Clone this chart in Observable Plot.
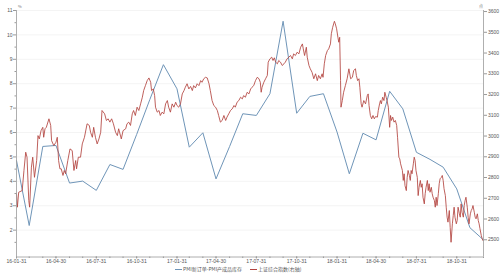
<!DOCTYPE html>
<html><head><meta charset="utf-8">
<script src="https://cdn.jsdelivr.net/npm/d3@7"></script>
<script src="https://cdn.jsdelivr.net/npm/@observablehq/plot@0.6"></script>
<style>
body{margin:0;background:#fff;}
#wrap{position:relative;width:500px;height:274px;overflow:hidden;background:#fff;}
#legend{position:absolute;left:0;top:264px;width:500px;height:10px;font-family:"Noto Sans CJK SC",sans-serif;font-size:5px;color:#555;}
.item{position:absolute;top:0;height:10px;line-height:10px;white-space:nowrap;}
.sw{display:inline-block;width:7px;height:0;border-top:1px solid;vertical-align:middle;margin-right:1px;}
.unit{position:absolute;top:3px;font-family:"Noto Sans CJK SC",sans-serif;font-size:4px;color:#777;}
</style></head><body>
<div id="wrap"><div id="chart"></div><div id="legend"></div></div>
<script>
// PMI new orders minus PMI finished-goods inventory (left axis, %)
const pmiMonths = ["2016-01-31","2016-02-29","2016-03-31","2016-04-30","2016-05-31","2016-06-30","2016-07-31","2016-08-31","2016-09-30","2016-10-31","2016-11-30","2016-12-31",
"2017-01-31","2017-02-28","2017-03-31","2017-04-30","2017-05-31","2017-06-30","2017-07-31","2017-08-31","2017-09-30","2017-10-31","2017-11-30","2017-12-31",
"2018-01-31","2018-02-28","2018-03-31","2018-04-30","2018-05-31","2018-06-30","2018-07-31","2018-08-31","2018-09-30","2018-10-31","2018-11-30","2018-12-31"];
const pmiSpread = [4.85,2.19,5.43,5.47,3.93,4.01,3.63,4.69,4.49,5.92,7.35,8.78,
7.79,5.40,5.99,4.10,5.43,6.77,6.70,7.59,10.56,6.79,7.48,7.59,
6.02,4.31,5.97,5.70,7.69,6.97,5.19,4.90,4.58,3.69,2.10,1.60];

// Shanghai Composite (right axis): days since 2016-01-31 and index level
const shStart = "2016-01-31";
const shDays = [0,2,5,13,17,21,24,28,30,34,37,41,46,49,52,56,60,62,65,68,74,78,80,85,90,93,96,99,102,106,109,112,117,122,127,131,135,137,141,146,150,155,161,166,169,173,176,180,184,188,192,195,201,205,209,213,217,221,226,230,233,239,243,249,252,256,260,264,
267,271,275,279,283,287,290,294,298,302,306,308,312,315,317,321,325,328,332,336,340,344,347,351,355,359,363,366,370,374,378,382,385,389,393,397,401,404,408,412,416,420,423,427,431,435,439,442,446,450,454,458,461,465,469,473,477,480,484,488,492,496,499,503,507,511,515,518,522,526,530,534,537,
541,545,549,553,556,558,560,564,568,572,574,578,582,585,588,591,595,598,602,606,610,613,617,621,625,629,632,636,640,644,648,652,654,657,661,663,667,670,674,678,682,686,689,693,697,699,702,705,709,712,716,718,721,725,727,730,733,735,737,739,740,743,746,750,754,758,762,766,769,773,775,778,781,783,786,788,792,796,800,802,804,807,810,813,816,819,
823,825,828,830,832,835,838,840,843,845,848,851,853,855,858,861,864,867,869,872,874,876,880,882,884,886,889,891,893,896,898,900,902,905,907,909,911,914,916,918,921,923,925,927,930,932,934,937,939,941,943,946,948,950,953,955,957,959,962,964,966,969,971,973,975,978,980,982,984,987,989,991,994,996,998,1000,1003,1005,1007,1010,1012,1014,1016,1019,1021,1023,1025,1028,1030,1032,1035,1037,1039,1041,1044,1046,1048,1051,1053,1055,1057,1060,1062,1064];
const shIndex = [2722,2657,2729,2737,2834,2922,2898,2689,2657,2850,2898,2801,2882,3002,2986,3026,3042,2994,3035,3042,3083,3051,2978,2954,2970,2994,2882,2842,2842,2810,2834,2818,2882,2938,2930,2834,2882,2842,2898,2898,2962,2994,3059,3051,3018,2994,3042,2994,2962,2986,3018,3123,3107,3075,3083,3067,3083,3059,3018,3002,3035,2986,3026,3035,3059,3067,3051,3107,
3123,3099,3139,3123,3155,3187,3219,3243,3267,3280,3259,3219,3227,3195,3139,3115,3123,3099,3115,3107,3155,3171,3139,3115,3155,3139,3163,3147,3139,3155,3203,3219,3235,3252,3227,3239,3219,3243,3232,3252,3243,3267,3259,3276,3283,3280,3252,3219,3171,3147,3139,3123,3099,3067,3075,3099,3075,3091,3107,3123,3131,3147,3139,3163,3171,3187,3179,3195,3187,3211,3203,3227,3235,
3243,3267,3283,3276,3259,3211,3235,3259,3276,3292,3356,3372,3380,3364,3377,3356,3348,3364,3356,3340,3348,3356,3372,3380,3388,3372,3396,3388,3404,3396,3428,3444,3420,3388,3428,3380,3340,3324,3307,3276,3300,3267,3292,3276,3300,3283,3348,3388,3412,3420,3444,3493,3524,3553,3541,3517,3476,3452,3476,3267,3139,3171,3211,3243,3276,3324,3276,3283,3316,3324,3292,3267,3276,3235,3155,3139,3171,3155,3195,3203,3147,3099,3083,3099,3083,3094,
3091,3123,3155,3171,3155,3187,3171,3211,3187,3171,3139,3042,3099,3075,3091,3067,3075,3051,2994,2898,2890,2866,2834,2786,2818,2761,2737,2801,2834,2810,2786,2834,2818,2866,2898,2882,2834,2801,2713,2753,2786,2753,2770,2705,2673,2722,2753,2786,2737,2770,2729,2753,2722,2705,2689,2657,2705,2665,2722,2770,2794,2801,2810,2786,2746,2713,2657,2609,2585,2641,2560,2488,2577,2617,2657,2609,2577,2593,2657,2625,2609,2673,2633,2609,2665,2689,2705,2657,2609,2577,2625,2641,2649,2665,2633,2609,2601,2625,2593,2577,2553,2520,2505,2496];

const xTickLabels = ["16-01-31","16-04-30","16-07-31","16-10-31","17-01-31","17-04-30","17-07-31","17-10-31","18-01-31","18-04-30","18-07-31","18-10-31"];
const leftTicks = [2,3,4,5,6,7,8,9,10,11];
const rightTicks = [2500,2600,2700,2800,2900,3000,3100,3200,3300,3400,3500,3600];
const legendLabels = ["PMI新订单-PMI产成品库存","上证综合指数(右轴)"];
const colors = ["#6f95b8","#b2433f"];

const xDomain = [new Date("2016-01-31"), new Date("2018-12-31")];
const leftDomain = [0.9, 11];
const rightDomain = [2417, 3605];
const toLeft = v => leftDomain[0] + (v - rightDomain[0]) / (rightDomain[1] - rightDomain[0]) * (leftDomain[1] - leftDomain[0]);
const fromLeft = u => rightDomain[0] + (u - leftDomain[0]) / (leftDomain[1] - leftDomain[0]) * (rightDomain[1] - rightDomain[0]);

const pmi = pmiMonths.map((d, i) => ({date: new Date(d), value: pmiSpread[i]}));
const start = new Date(shStart);
const sh = shDays.map((d, i) => ({date: d3.utcDay.offset(start, d), value: shIndex[i]}));
const xTicks = xTickLabels.map(s => new Date("20" + s));
const minorY = d3.range(1.5, 11, 1);

const fmtX = d3.utcFormat("%y-%m-%d");
const axisColor = "#9a9a9a";

const chart = Plot.plot({
  width: 500, height: 264,
  marginLeft: 16, marginRight: 17, marginTop: 10, marginBottom: 7.5,
  style: {fontSize: "5px", fontFamily: "'Liberation Sans', Arial, sans-serif", color: "#555", background: "#fff", overflow: "visible"},
  x: {type: "utc", domain: xDomain, axis: null},
  y: {domain: leftDomain, axis: null},
  marks: [
    Plot.gridY(leftTicks, {stroke: "#ececec", strokeOpacity: 1, strokeWidth: 0.6}),
    Plot.line(pmi, {x: "date", y: "value", stroke: colors[0], strokeWidth: 1}),
    Plot.line(sh, {x: "date", y: d => toLeft(d.value), stroke: colors[1], strokeWidth: 0.85}),
    Plot.ruleX([xDomain[0]], {stroke: axisColor, strokeWidth: 0.8}),
    Plot.ruleX([xDomain[1]], {stroke: axisColor, strokeWidth: 0.8}),
    Plot.ruleY([leftDomain[0]], {stroke: axisColor, strokeWidth: 0.8}),
    Plot.axisY(leftTicks, {anchor: "left", tickSize: 3, tickPadding: 1, stroke: axisColor, label: null, tickFormat: d => String(d)}),
    Plot.axisY(minorY, {anchor: "left", tickSize: 1.5, stroke: axisColor, label: null, tickFormat: () => ""}),
    Plot.axisY(rightTicks.map(toLeft), {anchor: "right", tickSize: 3, tickPadding: 1.5, stroke: axisColor, label: null, tickFormat: d => String(Math.round(fromLeft(d)))}),
    Plot.axisX(xTicks, {anchor: "bottom", tickSize: 2, tickPadding: 0, stroke: axisColor, label: null, tickFormat: d => fmtX(d)}),
    Plot.axisX(pmi.map(d => d.date), {anchor: "bottom", tickSize: 1.5, stroke: axisColor, label: null, tickFormat: () => ""})
  ]
});
document.getElementById("chart").appendChild(chart);

// units at axis tops
const wrap = document.getElementById("wrap");
const u1 = document.createElement("div"); u1.className = "unit"; u1.style.left = "18px"; u1.textContent = "%"; wrap.appendChild(u1);
const u2 = document.createElement("div"); u2.className = "unit"; u2.style.left = "479px"; u2.textContent = "点"; wrap.appendChild(u2);

// legend
const legend = document.getElementById("legend");
const lefts = [175, 250];
legendLabels.forEach((lab, i) => {
  const it = document.createElement("div");
  it.className = "item";
  it.style.left = lefts[i] + "px";
  it.innerHTML = `<span class="sw" style="border-color:${colors[i]}"></span>${lab}`;
  legend.appendChild(it);
});
</script>
</body></html>
